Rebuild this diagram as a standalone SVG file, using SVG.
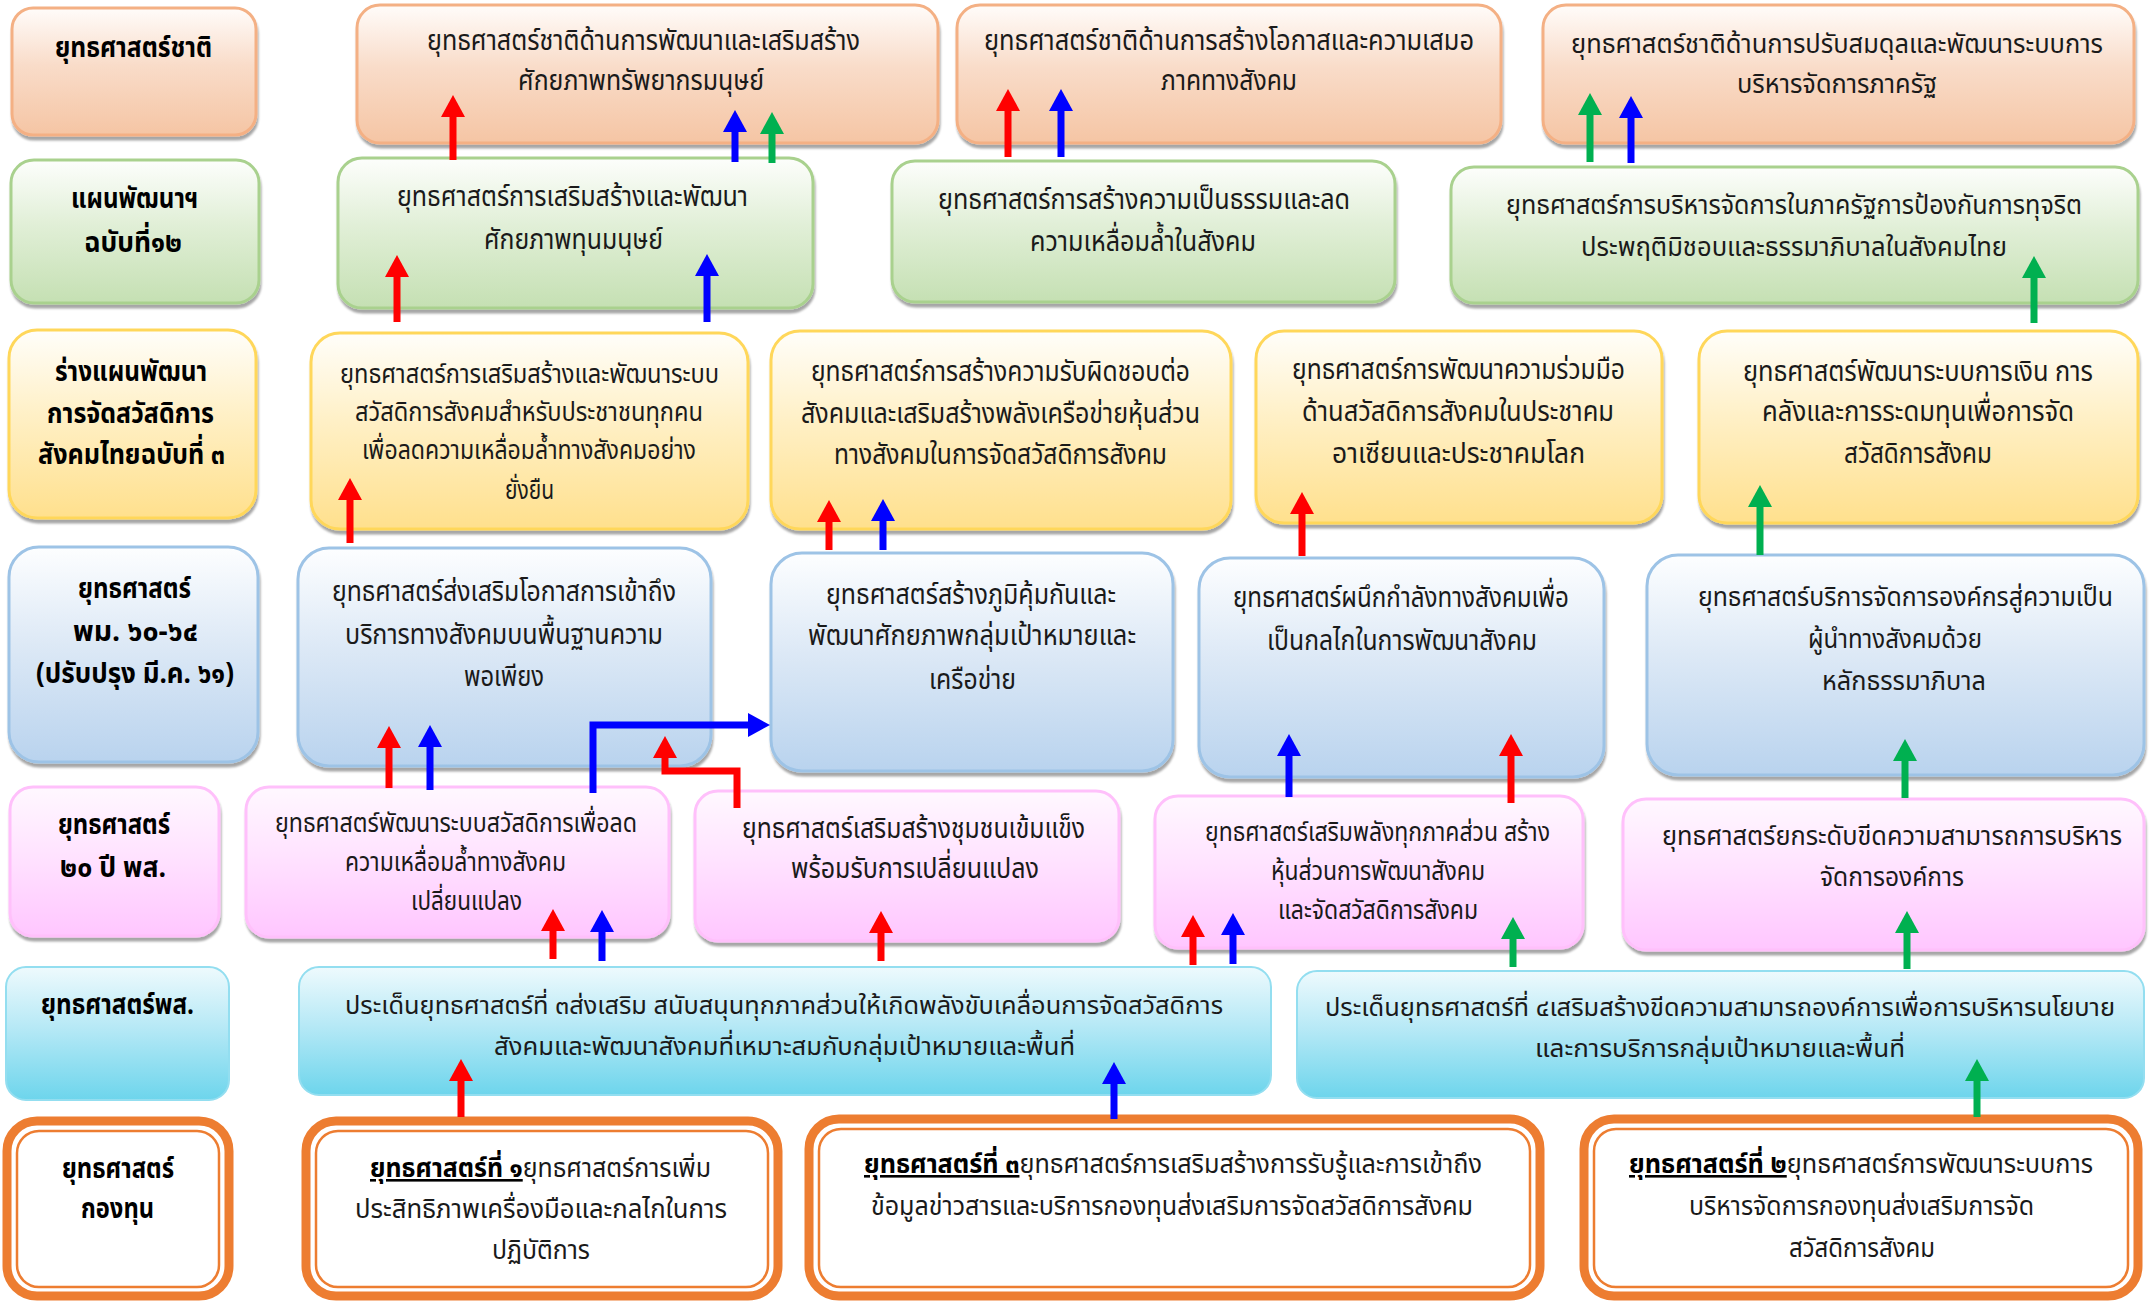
<svg xmlns="http://www.w3.org/2000/svg" width="2152" height="1301" viewBox="0 0 2152 1301">
<defs>
  <linearGradient id="gPeach" x1="0" y1="0" x2="0" y2="1">
    <stop offset="0" stop-color="#fffcfa"/><stop offset="0.45" stop-color="#f9dcc9"/><stop offset="1" stop-color="#f5c5a4"/>
  </linearGradient>
  <linearGradient id="gGreen" x1="0" y1="0" x2="0" y2="1">
    <stop offset="0" stop-color="#fdfefc"/><stop offset="0.45" stop-color="#e1efd7"/><stop offset="1" stop-color="#c5e0b3"/>
  </linearGradient>
  <linearGradient id="gYellow" x1="0" y1="0" x2="0" y2="1">
    <stop offset="0" stop-color="#fffefa"/><stop offset="0.45" stop-color="#fff0c6"/><stop offset="1" stop-color="#ffe08d"/>
  </linearGradient>
  <linearGradient id="gBlue" x1="0" y1="0" x2="0" y2="1">
    <stop offset="0" stop-color="#fdfeff"/><stop offset="0.45" stop-color="#dde9f6"/><stop offset="1" stop-color="#b9d3ee"/>
  </linearGradient>
  <linearGradient id="gPink" x1="0" y1="0" x2="0" y2="1">
    <stop offset="0" stop-color="#fff8ff"/><stop offset="0.45" stop-color="#ffe3ff"/><stop offset="1" stop-color="#ffc6ff"/>
  </linearGradient>
  <linearGradient id="gCyan" x1="0" y1="0" x2="0" y2="1">
    <stop offset="0" stop-color="#eefafd"/><stop offset="0.45" stop-color="#b7e9f6"/><stop offset="1" stop-color="#6dd5ec"/>
  </linearGradient>
  <filter id="sh" x="-5%" y="-5%" width="110%" height="125%">
    <feDropShadow dx="1" dy="4" stdDeviation="1.2" flood-color="#000" flood-opacity="0.35"/>
  </filter>
  <marker id="mR" viewBox="0 0 22 24" markerWidth="22" markerHeight="24" refX="1" refY="12" orient="auto" markerUnits="userSpaceOnUse">
    <path d="M0,0 L22,12 L0,24 z" fill="#ff0000"/>
  </marker>
  <marker id="mB" viewBox="0 0 22 24" markerWidth="22" markerHeight="24" refX="1" refY="12" orient="auto" markerUnits="userSpaceOnUse">
    <path d="M0,0 L22,12 L0,24 z" fill="#0000ff"/>
  </marker>
  <marker id="mG" viewBox="0 0 22 24" markerWidth="22" markerHeight="24" refX="1" refY="12" orient="auto" markerUnits="userSpaceOnUse">
    <path d="M0,0 L22,12 L0,24 z" fill="#00b050"/>
  </marker>
</defs>
<style>
  text { font-family: "Noto Sans Thai", "Noto Sans Thai UI", "Noto Sans", "DejaVu Sans", sans-serif; font-size: 29px; fill: #1a1a1a; }
  .lb { font-weight: bold; fill: #000; font-size: 29px; }
  .u { font-weight: bold; text-decoration: underline; fill: #000; }
  .sm { font-size: 26px; }
  .xs { font-size: 25px; }
  .peach { fill: url(#gPeach); stroke: #f4b084; stroke-width: 3; filter: url(#sh); }
  .green { fill: url(#gGreen); stroke: #a9d18e; stroke-width: 3; filter: url(#sh); }
  .yellow { fill: url(#gYellow); stroke: #ffd75a; stroke-width: 3; filter: url(#sh); }
  .blue { fill: url(#gBlue); stroke: #9dc3e6; stroke-width: 3; filter: url(#sh); }
  .pink { fill: url(#gPink); stroke: #ffc0fb; stroke-width: 3; filter: url(#sh); }
  .cyan { fill: url(#gCyan); stroke: #93def0; stroke-width: 2; }
  .ob { fill: #ffffff; stroke: #ed7d31; stroke-width: 9; }
  .oi { fill: none; stroke: #ed7d31; stroke-width: 2.5; }
  .c { fill: none; stroke-width: 7; stroke-linejoin: miter; }
  .r { stroke: #ff0000; marker-end: url(#mR); }
  .b { stroke: #0000ff; marker-end: url(#mB); }
  .g { stroke: #00b050; marker-end: url(#mG); }
</style>

<!-- row 1: national strategy -->
<g id="row1-label">
  <rect class="peach" x="12" y="8" width="244" height="127" rx="21"/>
  <text class="lb" x="55" y="57" textLength="157" lengthAdjust="spacingAndGlyphs">ยุทธศาสตร์ชาติ</text>
</g>
<g id="nat-human">
  <rect class="peach" x="357" y="5" width="581" height="138" rx="23"/>
  <text x="427" y="50" textLength="433" lengthAdjust="spacingAndGlyphs">ยุทธศาสตร์ชาติด้านการพัฒนาและเสริมสร้าง</text>
  <text x="518" y="90" textLength="246" lengthAdjust="spacingAndGlyphs">ศักยภาพทรัพยากรมนุษย์</text>
</g>
<g id="nat-equality">
  <rect class="peach" x="957" y="5" width="544" height="138" rx="23"/>
  <text x="984" y="50" textLength="490" lengthAdjust="spacingAndGlyphs">ยุทธศาสตร์ชาติด้านการสร้างโอกาสและความเสมอ</text>
  <text x="1161" y="90" textLength="136" lengthAdjust="spacingAndGlyphs">ภาคทางสังคม</text>
</g>
<g id="nat-governance">
  <rect class="peach" x="1543" y="5" width="591" height="138" rx="23"/>
  <text class="sm" x="1571" y="53" textLength="532" lengthAdjust="spacingAndGlyphs">ยุทธศาสตร์ชาติด้านการปรับสมดุลและพัฒนาระบบการ</text>
  <text class="sm" x="1737" y="93" textLength="200" lengthAdjust="spacingAndGlyphs">บริหารจัดการภาครัฐ</text>
</g>

<!-- row 2: 12th development plan -->
<g id="row2-label">
  <rect class="green" x="11" y="160" width="248" height="143" rx="23"/>
  <text class="lb" x="71" y="208" textLength="127" lengthAdjust="spacingAndGlyphs">แผนพัฒนาฯ</text>
  <text class="lb" x="84" y="252" textLength="98" lengthAdjust="spacingAndGlyphs">ฉบับที่๑๒</text>
</g>
<g id="plan-human">
  <rect class="green" x="338" y="158" width="475" height="150" rx="24"/>
  <text x="397" y="206" textLength="351" lengthAdjust="spacingAndGlyphs">ยุทธศาสตร์การเสริมสร้างและพัฒนา</text>
  <text x="484" y="249" textLength="179" lengthAdjust="spacingAndGlyphs">ศักยภาพทุนมนุษย์</text>
</g>
<g id="plan-equity">
  <rect class="green" x="892" y="161" width="503" height="141" rx="23"/>
  <text x="938" y="209" textLength="412" lengthAdjust="spacingAndGlyphs">ยุทธศาสตร์การสร้างความเป็นธรรมและลด</text>
  <text x="1030" y="251" textLength="226" lengthAdjust="spacingAndGlyphs">ความเหลื่อมล้ำในสังคม</text>
</g>
<g id="plan-governance">
  <rect class="green" x="1451" y="167" width="687" height="136" rx="23"/>
  <text class="sm" x="1506" y="214" textLength="576" lengthAdjust="spacingAndGlyphs">ยุทธศาสตร์การบริหารจัดการในภาครัฐการป้องกันการทุจริต</text>
  <text class="sm" x="1581" y="256" textLength="426" lengthAdjust="spacingAndGlyphs">ประพฤติมิชอบและธรรมาภิบาลในสังคมไทย</text>
</g>

<!-- row 3: draft welfare plan no. 3 -->
<g id="row3-label">
  <rect class="yellow" x="9" y="330" width="247" height="188" rx="28"/>
  <text class="lb" x="55" y="381" textLength="152" lengthAdjust="spacingAndGlyphs">ร่างแผนพัฒนา</text>
  <text class="lb" x="47" y="423" textLength="167" lengthAdjust="spacingAndGlyphs">การจัดสวัสดิการ</text>
  <text class="lb" x="38" y="464" textLength="187" lengthAdjust="spacingAndGlyphs">สังคมไทยฉบับที่ ๓</text>
</g>
<g id="welfare-system">
  <rect class="yellow" x="311" y="333" width="437" height="196" rx="29"/>
  <text class="sm" x="340" y="383" textLength="379" lengthAdjust="spacingAndGlyphs">ยุทธศาสตร์การเสริมสร้างและพัฒนาระบบ</text>
  <text class="sm" x="355" y="421" textLength="348" lengthAdjust="spacingAndGlyphs">สวัสดิการสังคมสำหรับประชาชนทุกคน</text>
  <text class="sm" x="362" y="459" textLength="334" lengthAdjust="spacingAndGlyphs">เพื่อลดความเหลื่อมล้ำทางสังคมอย่าง</text>
  <text class="sm" x="505" y="499" textLength="49" lengthAdjust="spacingAndGlyphs">ยั่งยืน</text>
</g>
<g id="welfare-network">
  <rect class="yellow" x="771" y="331" width="460" height="198" rx="29"/>
  <text x="811" y="381" textLength="379" lengthAdjust="spacingAndGlyphs">ยุทธศาสตร์การสร้างความรับผิดชอบต่อ</text>
  <text x="801" y="423" textLength="399" lengthAdjust="spacingAndGlyphs">สังคมและเสริมสร้างพลังเครือข่ายหุ้นส่วน</text>
  <text x="834" y="464" textLength="333" lengthAdjust="spacingAndGlyphs">ทางสังคมในการจัดสวัสดิการสังคม</text>
</g>
<g id="welfare-asean">
  <rect class="yellow" x="1256" y="331" width="406" height="192" rx="28"/>
  <text x="1292" y="379" textLength="333" lengthAdjust="spacingAndGlyphs">ยุทธศาสตร์การพัฒนาความร่วมมือ</text>
  <text x="1302" y="421" textLength="312" lengthAdjust="spacingAndGlyphs">ด้านสวัสดิการสังคมในประชาคม</text>
  <text x="1332" y="463" textLength="253" lengthAdjust="spacingAndGlyphs">อาเซียนและประชาคมโลก</text>
</g>
<g id="welfare-finance">
  <rect class="yellow" x="1699" y="331" width="439" height="192" rx="28"/>
  <text x="1743" y="381" textLength="350" lengthAdjust="spacingAndGlyphs">ยุทธศาสตร์พัฒนาระบบการเงิน การ</text>
  <text x="1762" y="421" textLength="312" lengthAdjust="spacingAndGlyphs">คลังและการระดมทุนเพื่อการจัด</text>
  <text x="1844" y="463" textLength="148" lengthAdjust="spacingAndGlyphs">สวัสดิการสังคม</text>
</g>

<!-- row 4: ministry strategy 60-64 -->
<g id="row4-label">
  <rect class="blue" x="9" y="547" width="249" height="215" rx="30"/>
  <text class="lb" x="78" y="598" textLength="113" lengthAdjust="spacingAndGlyphs">ยุทธศาสตร์</text>
  <text class="lb" x="73" y="641" textLength="125" lengthAdjust="spacingAndGlyphs">พม. ๖๐-๖๔</text>
  <text class="lb" x="36" y="683" textLength="198" lengthAdjust="spacingAndGlyphs">(ปรับปรุง มี.ค. ๖๑)</text>
</g>
<g id="msdhs-access">
  <rect class="blue" x="298" y="548" width="413" height="218" rx="31"/>
  <text x="332" y="601" textLength="344" lengthAdjust="spacingAndGlyphs">ยุทธศาสตร์ส่งเสริมโอกาสการเข้าถึง</text>
  <text x="345" y="644" textLength="318" lengthAdjust="spacingAndGlyphs">บริการทางสังคมบนพื้นฐานความ</text>
  <text x="464" y="686" textLength="80" lengthAdjust="spacingAndGlyphs">พอเพียง</text>
</g>
<g id="msdhs-immunity">
  <rect class="blue" x="771" y="553" width="402" height="218" rx="31"/>
  <text x="826" y="604" textLength="290" lengthAdjust="spacingAndGlyphs">ยุทธศาสตร์สร้างภูมิคุ้มกันและ</text>
  <text x="808" y="645" textLength="328" lengthAdjust="spacingAndGlyphs">พัฒนาศักยภาพกลุ่มเป้าหมายและ</text>
  <text x="929" y="689" textLength="87" lengthAdjust="spacingAndGlyphs">เครือข่าย</text>
</g>
<g id="msdhs-alliance">
  <rect class="blue" x="1199" y="558" width="405" height="219" rx="31"/>
  <text x="1233" y="607" textLength="336" lengthAdjust="spacingAndGlyphs">ยุทธศาสตร์ผนึกกำลังทางสังคมเพื่อ</text>
  <text x="1267" y="650" textLength="270" lengthAdjust="spacingAndGlyphs">เป็นกลไกในการพัฒนาสังคม</text>
</g>
<g id="msdhs-leadership">
  <rect class="blue" x="1647" y="555" width="497" height="220" rx="31"/>
  <text class="sm" x="1698" y="606" textLength="415" lengthAdjust="spacingAndGlyphs">ยุทธศาสตร์บริการจัดการองค์กรสู่ความเป็น</text>
  <text class="sm" x="1808" y="648" textLength="174" lengthAdjust="spacingAndGlyphs">ผู้นำทางสังคมด้วย</text>
  <text class="sm" x="1822" y="690" textLength="164" lengthAdjust="spacingAndGlyphs">หลักธรรมาภิบาล</text>
</g>

<!-- row 5: 20-year strategy -->
<g id="row5-label">
  <rect class="pink" x="10" y="787" width="209" height="149" rx="23"/>
  <text class="lb" x="58" y="834" textLength="112" lengthAdjust="spacingAndGlyphs">ยุทธศาสตร์</text>
  <text class="lb" x="60" y="877" textLength="106" lengthAdjust="spacingAndGlyphs">๒๐ ปี พส.</text>
</g>
<g id="y20-welfare">
  <rect class="pink" x="246" y="787" width="423" height="150" rx="23"/>
  <text class="sm" x="275" y="832" textLength="362" lengthAdjust="spacingAndGlyphs">ยุทธศาสตร์พัฒนาระบบสวัสดิการเพื่อลด</text>
  <text class="sm" x="345" y="871" textLength="221" lengthAdjust="spacingAndGlyphs">ความเหลื่อมล้ำทางสังคม</text>
  <text class="sm" x="411" y="910" textLength="111" lengthAdjust="spacingAndGlyphs">เปลี่ยนแปลง</text>
</g>
<g id="y20-community">
  <rect class="pink" x="695" y="791" width="424" height="150" rx="23"/>
  <text x="742" y="838" textLength="343" lengthAdjust="spacingAndGlyphs">ยุทธศาสตร์เสริมสร้างชุมชนเข้มแข็ง</text>
  <text x="791" y="878" textLength="248" lengthAdjust="spacingAndGlyphs">พร้อมรับการเปลี่ยนแปลง</text>
</g>
<g id="y20-partnership">
  <rect class="pink" x="1155" y="796" width="428" height="152" rx="23"/>
  <text class="sm" x="1205" y="841" textLength="345" lengthAdjust="spacingAndGlyphs">ยุทธศาสตร์เสริมพลังทุกภาคส่วน สร้าง</text>
  <text class="sm" x="1271" y="880" textLength="214" lengthAdjust="spacingAndGlyphs">หุ้นส่วนการพัฒนาสังคม</text>
  <text class="sm" x="1278" y="919" textLength="200" lengthAdjust="spacingAndGlyphs">และจัดสวัสดิการสังคม</text>
</g>
<g id="y20-capacity">
  <rect class="pink" x="1623" y="799" width="521" height="151" rx="23"/>
  <text class="sm" x="1662" y="845" textLength="460" lengthAdjust="spacingAndGlyphs">ยุทธศาสตร์ยกระดับขีดความสามารถการบริหาร</text>
  <text class="sm" x="1820" y="886" textLength="144" lengthAdjust="spacingAndGlyphs">จัดการองค์การ</text>
</g>

<!-- row 6: department strategy -->
<g id="row6-label">
  <rect class="cyan" x="6" y="967" width="223" height="133" rx="20"/>
  <text class="lb" x="41" y="1014" textLength="153" lengthAdjust="spacingAndGlyphs">ยุทธศาสตร์พส.</text>
</g>
<g id="dept-issue3">
  <rect class="cyan" x="299" y="967" width="972" height="128" rx="20"/>
  <text class="xs" x="345" y="1014" textLength="878" lengthAdjust="spacingAndGlyphs">ประเด็นยุทธศาสตร์ที่ ๓ส่งเสริม สนับสนุนทุกภาคส่วนให้เกิดพลังขับเคลื่อนการจัดสวัสดิการ</text>
  <text class="xs" x="494" y="1055" textLength="581" lengthAdjust="spacingAndGlyphs">สังคมและพัฒนาสังคมที่เหมาะสมกับกลุ่มเป้าหมายและพื้นที่</text>
</g>
<g id="dept-issue4">
  <rect class="cyan" x="1297" y="971" width="847" height="127" rx="20"/>
  <text class="xs" x="1325" y="1016" textLength="790" lengthAdjust="spacingAndGlyphs">ประเด็นยุทธศาสตร์ที่ ๔เสริมสร้างขีดความสามารถองค์การเพื่อการบริหารนโยบาย</text>
  <text class="xs" x="1535" y="1057" textLength="370" lengthAdjust="spacingAndGlyphs">และการบริการกลุ่มเป้าหมายและพื้นที่</text>
</g>

<!-- row 7: fund strategy -->
<g id="row7-label">
  <rect class="ob" x="7" y="1121" width="222" height="175" rx="30"/>
  <rect class="oi" x="17" y="1131" width="202" height="156" rx="22"/>
  <text class="lb" x="62" y="1178" textLength="112" lengthAdjust="spacingAndGlyphs">ยุทธศาสตร์</text>
  <text class="lb" x="81" y="1218" textLength="73" lengthAdjust="spacingAndGlyphs">กองทุน</text>
</g>
<g id="fund-s1">
  <rect class="ob" x="306" y="1121" width="472" height="175" rx="30"/>
  <rect class="oi" x="316" y="1131" width="452" height="156" rx="22"/>
  <text class="sm" x="370" y="1177" textLength="341" lengthAdjust="spacingAndGlyphs"><tspan class="u">ยุทธศาสตร์ที่ ๑</tspan>ยุทธศาสตร์การเพิ่ม</text>
  <text class="sm" x="355" y="1218" textLength="372" lengthAdjust="spacingAndGlyphs">ประสิทธิภาพเครื่องมือและกลไกในการ</text>
  <text class="sm" x="492" y="1259" textLength="98" lengthAdjust="spacingAndGlyphs">ปฏิบัติการ</text>
</g>
<g id="fund-s3">
  <rect class="ob" x="809" y="1119" width="731" height="177" rx="30"/>
  <rect class="oi" x="819" y="1129" width="711" height="158" rx="22"/>
  <text class="sm" x="864" y="1173" textLength="618" lengthAdjust="spacingAndGlyphs"><tspan class="u">ยุทธศาสตร์ที่ ๓</tspan>ยุทธศาสตร์การเสริมสร้างการรับรู้และการเข้าถึง</text>
  <text class="sm" x="871" y="1215" textLength="602" lengthAdjust="spacingAndGlyphs">ข้อมูลข่าวสารและบริการกองทุนส่งเสริมการจัดสวัสดิการสังคม</text>
</g>
<g id="fund-s2">
  <rect class="ob" x="1584" y="1119" width="554" height="177" rx="30"/>
  <rect class="oi" x="1594" y="1129" width="534" height="158" rx="22"/>
  <text class="sm" x="1629" y="1173" textLength="464" lengthAdjust="spacingAndGlyphs"><tspan class="u">ยุทธศาสตร์ที่ ๒</tspan>ยุทธศาสตร์การพัฒนาระบบการ</text>
  <text class="sm" x="1689" y="1215" textLength="345" lengthAdjust="spacingAndGlyphs">บริหารจัดการกองทุนส่งเสริมการจัด</text>
  <text class="sm" x="1789" y="1257" textLength="146" lengthAdjust="spacingAndGlyphs">สวัสดิการสังคม</text>
</g>

<!-- connectors: every arrow points upward to the strategy it supports -->
<g id="connectors">
  <path class="c r" d="M453,160 V116"/>
  <path class="c b" d="M735,162 V131"/>
  <path class="c g" d="M772,163 V133"/>
  <path class="c r" d="M1008,157 V110"/>
  <path class="c b" d="M1061,157 V110"/>
  <path class="c g" d="M1590,162 V114"/>
  <path class="c b" d="M1631,163 V117"/>

  <path class="c r" d="M397,322 V276"/>
  <path class="c b" d="M707,322 V275"/>
  <path class="c g" d="M2034,323 V277"/>

  <path class="c r" d="M350,543 V499"/>
  <path class="c r" d="M829,550 V521"/>
  <path class="c b" d="M883,550 V520"/>
  <path class="c r" d="M1302,556 V513"/>
  <path class="c g" d="M1760,555 V506"/>

  <path class="c r" d="M389,788 V747"/>
  <path class="c b" d="M430,790 V746"/>
  <path class="c b" d="M593,793 V725 H749"/>
  <path class="c r" d="M737,808 V771 H665 V757"/>
  <path class="c b" d="M1289,797 V755"/>
  <path class="c r" d="M1511,803 V755"/>
  <path class="c g" d="M1905,798 V760"/>

  <path class="c r" d="M553,959 V930"/>
  <path class="c b" d="M602,961 V931"/>
  <path class="c r" d="M881,961 V932"/>
  <path class="c r" d="M1193,965 V936"/>
  <path class="c b" d="M1233,964 V934"/>
  <path class="c g" d="M1513,967 V938"/>
  <path class="c g" d="M1907,969 V932"/>

  <path class="c r" d="M461,1117 V1080"/>
  <path class="c b" d="M1114,1119 V1083"/>
  <path class="c g" d="M1977,1117 V1080"/>
</g>
</svg>
